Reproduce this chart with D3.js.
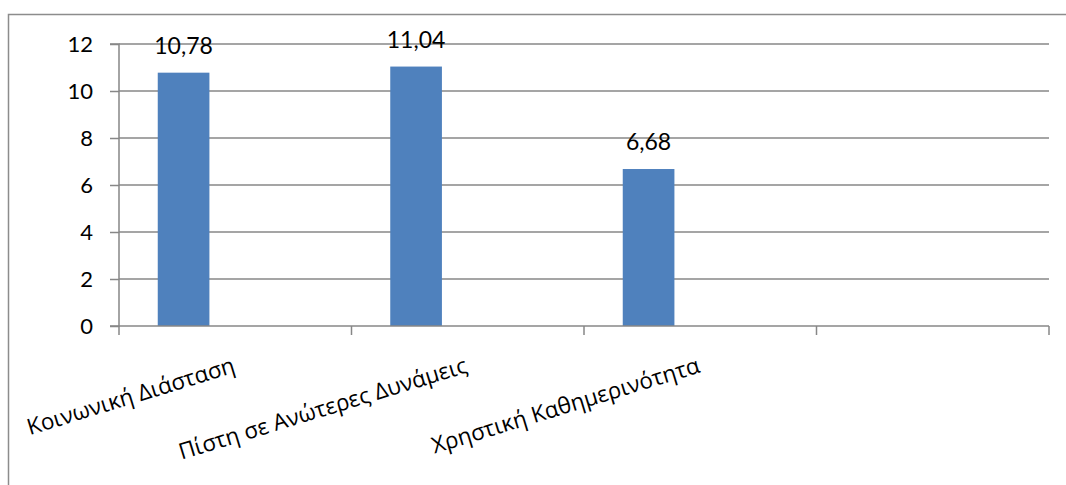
<!DOCTYPE html>
<html>
<head>
<meta charset="utf-8">
<script src="https://cdnjs.cloudflare.com/ajax/libs/d3/7.8.5/d3.min.js"></script>
<style>
  body { margin: 0; background: #fff; }
  svg { display: block; }
</style>
</head>
<body>
<svg width="1066" height="485"></svg>
<script>
// chart data
const categories = ["Κοινωνική Διάσταση", "Πίστη σε Ανώτερες Δυνάμεις", "Χρηστική Καθημερινότητα", ""];
const seriesNames = ["Σειρά 1", "Σειρά 2", "Σειρά 3"]; // only the first one has values
const values = [10.78, 11.04, 6.68, null];
const yTicks = [0, 2, 4, 6, 8, 10, 12];

const svg = d3.select("svg");
const width = +svg.attr("width");
const height = +svg.attr("height");
const margin = { top: 44, right: 17, bottom: 159, left: 119 };
const gridColor = "#878787";

// outer frame (runs off the right and bottom of the picture)
svg.append("path")
    .attr("d", `M8.5,${height + 5}V14.5H${width + 5}`)
    .attr("fill", "none")
    .attr("stroke", "#8c8c8c")
    .attr("stroke-width", 1.5);

const x0 = d3.scaleBand()
    .domain(categories.map((d, i) => i))
    .range([margin.left, width - margin.right])
    .padding(0);

const x1 = d3.scaleBand()
    .domain(seriesNames)
    .range([0, x0.bandwidth()])
    .paddingInner(0)
    .paddingOuter(0.75);

const y = d3.scaleLinear()
    .domain([0, 12])
    .range([height - margin.bottom, margin.top]);

// gridlines
svg.append("g")
    .selectAll("line")
    .data(yTicks.filter(t => t > 0))
    .enter()
    .append("line")
    .attr("x1", margin.left)
    .attr("x2", width - margin.right)
    .attr("y1", d => y(d))
    .attr("y2", d => y(d))
    .attr("stroke", gridColor)
    .attr("stroke-width", 1.5);

// bars (first series)
svg.append("g")
    .selectAll("rect")
    .data(values.map((v, i) => ({ i, v })).filter(d => d.v != null))
    .enter()
    .append("rect")
    .attr("x", d => x0(d.i) + x1(seriesNames[0]))
    .attr("y", d => y(d.v))
    .attr("width", x1.bandwidth())
    .attr("height", d => y(0) - y(d.v))
    .attr("fill", "#4f81bd");

// value labels
svg.append("g")
    .selectAll("text")
    .data(values.map((v, i) => ({ i, v })).filter(d => d.v != null))
    .enter()
    .append("text")
    .attr("x", d => x0(d.i) + x1(seriesNames[0]) + x1.bandwidth() / 2)
    .attr("y", d => y(d.v) - 19)
    .attr("text-anchor", "middle")
    .attr("font-family", "Lato, 'Noto Sans', sans-serif")
    .attr("font-size", 23)
    .attr("fill", "#000")
    .text(d => d3.format(".2f")(d.v).replace(".", ","));

// y axis
const yAxis = svg.append("g")
    .attr("transform", `translate(${margin.left},0)`)
    .call(d3.axisLeft(y).tickValues(yTicks).tickSize(9).tickPadding(17).tickFormat(d3.format("d")));
yAxis.select(".domain").attr("stroke", gridColor).attr("stroke-width", 1.5).attr("d", `M-9,${y(12)}H0V${y(0)}H-9`);
yAxis.selectAll(".tick line").attr("stroke", gridColor).attr("stroke-width", 1.5);
yAxis.selectAll(".tick text")
    .attr("font-family", "Lato, 'Noto Sans', sans-serif")
    .attr("font-size", 22)
    .attr("fill", "#000");

// x axis with ticks on the category boundaries
const xAxis = svg.append("g")
    .attr("transform", `translate(0,${y(0)})`);
xAxis.append("line")
    .attr("x1", margin.left)
    .attr("x2", width - margin.right)
    .attr("stroke", gridColor)
    .attr("stroke-width", 1.5);
xAxis.selectAll(".xtick")
    .data(categories.map((d, i) => x0(i)).concat([x0(categories.length - 1) + x0.bandwidth()]))
    .enter()
    .append("line")
    .attr("class", "xtick")
    .attr("x1", d => d)
    .attr("x2", d => d)
    .attr("y1", 0)
    .attr("y2", 9)
    .attr("stroke", gridColor)
    .attr("stroke-width", 1.5);

xAxis.selectAll(".xlabel")
    .data(categories.map((c, i) => ({ c, i })).filter(d => d.c))
    .enter()
    .append("text")
    .attr("class", "xlabel")
    .attr("transform", d => `translate(${x0(d.i) + x0.bandwidth() / 2 + 1},46) rotate(-17)`)
    .attr("text-anchor", "end")
    .attr("font-family", "'Open Sans', sans-serif")
    .attr("font-size", 22.5)
    .attr("fill", "#000")
    .text(d => d.c);
</script>
</body>
</html>
